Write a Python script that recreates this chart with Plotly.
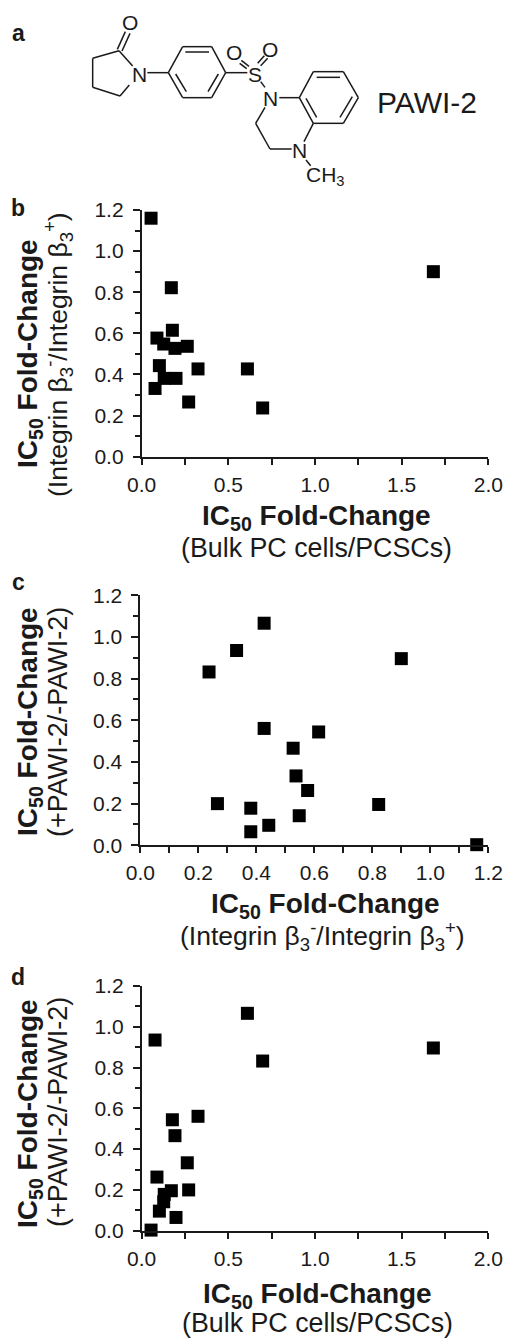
import plotly.graph_objects as go

W, H = 506, 1338

# Data: each of the 16 samples has three fold-change values
bulk_pc_pcsc = [0.054, 1.683, 0.171, 0.177, 0.088, 0.127, 0.192, 0.263,
                0.102, 0.325, 0.610, 0.130, 0.198, 0.077, 0.271, 0.698]
integrin = [1.160, 0.900, 0.822, 0.615, 0.577, 0.548, 0.527, 0.537,
            0.443, 0.427, 0.427, 0.381, 0.381, 0.332, 0.266, 0.237]
pawi = [0.003, 0.896, 0.196, 0.544, 0.263, 0.142, 0.466, 0.333,
        0.096, 0.561, 1.066, 0.178, 0.065, 0.935, 0.200, 0.832]

x_ticks_bulk = [0.0, 0.5, 1.0, 1.5, 2.0]
x_ticks_int = [0.0, 0.2, 0.4, 0.6, 0.8, 1.0, 1.2]
y_ticks = [0.0, 0.2, 0.4, 0.6, 0.8, 1.0, 1.2]

FONT = "Liberation Sans"
INK = "#1a1a1a"
BOLD_T = "<b>IC<sub>50</sub> Fold-Change</b>"
SUB_BULK = "(Bulk PC cells/PCSCs)"
SUB_INT = "(Integrin β<sub>3</sub><sup>-</sup>/Integrin β<sub>3</sub><sup>+</sup>)"
SUB_PAWI = "(+PAWI-2/-PAWI-2)"


def px(x):
    return x / W


def py(y):
    return 1 - y / H


# x values, y values, x ticks, x minor step, x max, pixel box (left, right, top, bottom)
panels = [
    (bulk_pc_pcsc, integrin, x_ticks_bulk, 0.25, 2.0, (141.7, 488.3, 210.0, 456.7)),
    (integrin, pawi, x_ticks_int, 0.1, 1.2, (140.3, 488.3, 595.3, 845.3)),
    (bulk_pc_pcsc, pawi, x_ticks_bulk, 0.25, 2.0, (141.7, 488.3, 986.0, 1230.7)),
]

fig = go.Figure()
layout = dict(
    width=W, height=H, margin=dict(l=0, r=0, t=0, b=0, autoexpand=False), autosize=False,
    paper_bgcolor="white", plot_bgcolor="white", showlegend=False,
    font=dict(family=FONT, color=INK),
)

for i, (xs, ys, xt, xm, xmax, (l, r, t, b)) in enumerate(panels, start=1):
    fig.add_trace(go.Scatter(
        x=xs, y=ys, mode="markers", xaxis=f"x{i}", yaxis=f"y{i}", cliponaxis=False,
        marker=dict(symbol="square", size=13, color="#000000", line=dict(width=0)),
    ))
    layout[f"xaxis{i}"] = dict(
        domain=[px(l), px(r)], range=[0, xmax], anchor=f"y{i}",
        tickmode="array", tickvals=xt, ticktext=[f"{v:.1f}" for v in xt],
        ticks="outside", ticklen=6, tickwidth=1.5, tickcolor=INK,
        minor=dict(dtick=xm, tick0=0, ticks="outside", ticklen=6, tickwidth=1.5, tickcolor=INK),
        showline=True, linewidth=1.8, linecolor=INK, showgrid=False, zeroline=False,
        tickfont=dict(size=21, family=FONT, color=INK), ticklabelstandoff=2,
    )
    layout[f"yaxis{i}"] = dict(
        domain=[py(b), py(t)], range=[0, 1.2], anchor=f"x{i}",
        tickmode="array", tickvals=y_ticks, ticktext=[f"{v:.1f}" for v in y_ticks],
        ticks="outside", ticklen=7, tickwidth=1.5, tickcolor=INK,
        minor=dict(dtick=0.1, tick0=0, ticks="outside", ticklen=5, tickwidth=1.5, tickcolor=INK),
        showline=True, linewidth=1.8, linecolor=INK, showgrid=False, zeroline=False,
        tickfont=dict(size=21, family=FONT, color=INK), ticklabelstandoff=5,
    )


def text(x, y, s, size, angle=0):
    return dict(x=px(x), y=py(y), xref="paper", yref="paper", text=s, showarrow=False,
                xanchor="center", yanchor="middle", textangle=angle,
                font=dict(size=size, family=FONT, color=INK))


ann = [
    text(18, 33, "<b>a</b>", 23), text(18, 208, "<b>b</b>", 23),
    text(18, 582, "<b>c</b>", 23), text(18, 977, "<b>d</b>", 23),
    text(316, 517, BOLD_T, 28), text(316, 548, SUB_BULK, 26.8),
    text(29, 354, BOLD_T, 28, -90), text(58, 355, SUB_INT, 26.5, -90),
    text(325, 905.5, BOLD_T, 28), text(322, 936, SUB_INT, 26.5),
    text(29, 722, BOLD_T, 28, -90), text(58, 722, SUB_PAWI, 27, -90),
    text(317, 1295.5, BOLD_T, 28), text(317, 1322.5, SUB_BULK, 26.8),
    text(29, 1114, BOLD_T, 28, -90), text(58, 1112, SUB_PAWI, 27, -90),
    # Structure labels
    text(427, 102, "PAWI-2", 30),
]
for x, y, s in [(389, 68, "O"), (417, 222, "N"), (765, 222, "S"), (703, 158, "O"), (810, 147, "O"),
                (812, 297, "N"), (897, 452, "N"), (977, 527, "CH<sub>3</sub>")]:
    ann.append(text(x / 3, y / 3, s, 21))

# Skeletal formula bonds, in 3x zoom pixels of the page
bonds = [
    (357, 152, 278, 175), (278, 175, 278, 262), (278, 262, 360, 288), (360, 288, 388, 255),
    (357, 152, 398, 198), (352, 148, 376, 95), (366, 153, 390, 100), (442, 218, 505, 218),
    (505, 218, 548, 140), (548, 140, 635, 140), (635, 140, 677, 218), (677, 218, 635, 293),
    (635, 293, 548, 293), (548, 293, 505, 218), (556, 156, 627, 156), (527, 222, 559, 275),
    (655, 222, 624, 275), (677, 218, 742, 218), (747, 199, 724, 181), (740, 206, 719, 190),
    (773, 190, 793, 167), (782, 197, 803, 175), (782, 245, 795, 262), (838, 293, 898, 293),
    (898, 293, 940, 215), (940, 215, 1030, 215), (1030, 215, 1075, 293), (1075, 293, 1030, 370),
    (1030, 370, 940, 370), (940, 370, 898, 293), (950, 232, 1020, 232), (1057, 290, 1020, 352),
    (918, 295, 950, 352), (795, 322, 767, 370), (767, 370, 810, 447), (810, 447, 875, 447),
    (940, 370, 912, 425), (918, 480, 932, 497),
]
shapes = [dict(type="line", xref="paper", yref="paper", x0=px(a / 3), y0=py(b / 3), x1=px(c / 3), y1=py(d / 3),
               line=dict(color=INK, width=1.5)) for a, b, c, d in bonds]

layout["annotations"] = ann
layout["shapes"] = shapes
fig.update_layout(**layout)
fig.write_html("out.html", config=dict(displayModeBar=False),
               post_script="document.body.style.margin='0';document.body.style.overflow='hidden';")
